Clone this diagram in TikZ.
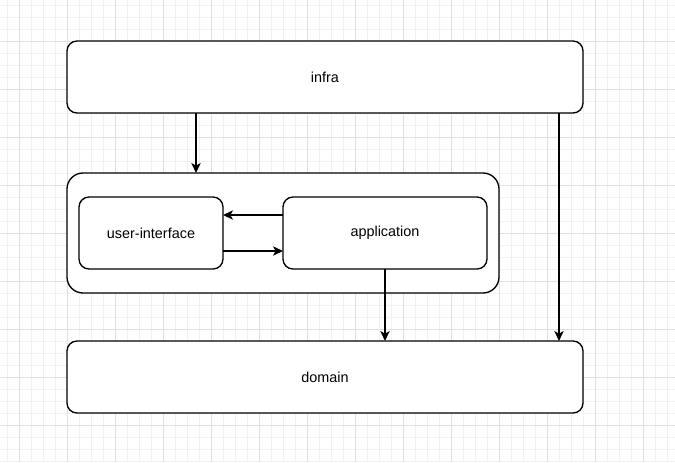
\documentclass[tikz,border=0pt]{standalone}
\usepackage{fontspec}
\setmainfont{Liberation Sans}
\usepackage{tikz}
\usetikzlibrary{arrows.meta}
\definecolor{gridmajor}{HTML}{E0E0E0}
\definecolor{gridminor}{HTML}{F1F1F1}

\begin{document}
\begin{tikzpicture}[x=0.75pt,y=-0.75pt,>={Stealth[length=7.5pt,width=7pt,inset=2pt]},line width=1pt]
\tikzstyle{layer}=[rectangle,draw,rounded corners=7.5pt,align=center,inner sep=0pt,outer sep=0pt,fill=white,font=\fontsize{10.8pt}{13pt}\selectfont]
\useasboundingbox (0,0) rectangle (675,462);
\fill[white] (0,0) rectangle (675,462);
% background grid
\foreach \x in {7,19,...,679} \draw[gridminor,line width=0.75pt] (\x,0) -- (\x,462);
\foreach \y in {5,17,...,461} \draw[gridminor,line width=0.75pt] (0,\y) -- (675,\y);
\foreach \x in {19,67,...,679} \draw[gridmajor,line width=0.75pt] (\x,0) -- (\x,462);
\foreach \y in {41,89,...,461} \draw[gridmajor,line width=0.75pt] (0,\y) -- (675,\y);
% layers
\node[layer,minimum width=387pt,minimum height=54pt] (infra) at (325,77) {infra};
\node[layer,rounded corners=12pt,minimum width=324pt,minimum height=90pt] (box) at (283,233) {};
\node[layer,minimum width=108pt,minimum height=54pt] (ui) at (151,233) {user-interface};
\node[layer,minimum width=153pt,minimum height=54pt] (app) at (385,233) {application};
\node[layer,minimum width=387pt,minimum height=54pt] (domain) at (325,377) {domain};
\coordinate (c1) at (196,0);
\coordinate (c2) at (559,0);
\coordinate (r1) at (0,215);
\coordinate (r2) at (0,251);
\draw[->] (infra.south -| c1) -- (box.north -| c1);
\draw[->] (infra.south -| c2) -- (domain.north -| c2);
\draw[->] (app.west |- r1) -- (ui.east |- r1);
\draw[->] (ui.east |- r2) -- (app.west |- r2);
\draw[->] (app.south) -- (domain.north -| app.south);
\end{tikzpicture}
\end{document}
